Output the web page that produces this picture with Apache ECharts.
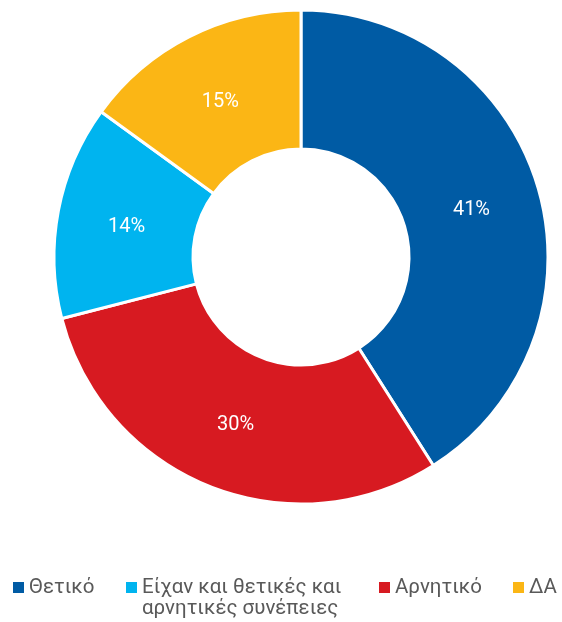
<!DOCTYPE html>
<html><head><meta charset="utf-8">
<script src="https://cdn.jsdelivr.net/npm/echarts@6/dist/echarts.min.js"></script>
<style>html,body{margin:0;padding:0;background:#fff}#c{width:562px;height:622px}</style>
</head><body><div id="c"></div>
<script>
const categories = ['Θετικό', 'Αρνητικό', 'Είχαν και θετικές και\nαρνητικές συνέπειες', 'ΔΑ'];
const values = [41, 30, 14, 15];
const colors = ['#005BA4', '#D71A21', '#00B4EF', '#FBB615'];
const legendOrder = ['Θετικό', 'Είχαν και θετικές και\nαρνητικές συνέπειες', 'Αρνητικό', 'ΔΑ'];
const legendLeft = [13, 126, 379, 513];

const LH = 21;
const ICON_Y = 587.5;
const chart = echarts.init(document.getElementById('c'), null, {renderer: 'canvas'});
const legends = legendOrder.map((name, i) => {
  const multi = name.indexOf('\n') >= 0;
  return {
    data: [name],
    left: legendLeft[i],
    top: multi ? ICON_Y - LH * 1.5 : ICON_Y - LH / 2,
    orient: 'horizontal',
    icon: 'rect',
    itemWidth: 11,
    itemHeight: 11,
    itemGap: 0,
    padding: 0,
    selectedMode: false,
    itemStyle: {borderWidth: 0},
    textStyle: {fontFamily: 'Roboto', fontSize: 20.5, color: '#595959', lineHeight: LH},
    // leading blank line keeps the first text line level with the icon
    formatter: n => (multi ? '\n' : '') + n
  };
});

const pieData = categories.map((c, i) => ({name: c, value: values[i]}));
const common = {
  type: 'pie',
  center: [301, 257],
  startAngle: 90,
  clockwise: true,
  labelLine: {show: false},
  emphasis: {disabled: true},
  data: pieData
};

chart.setOption({
  animation: false,
  color: colors,
  legend: legends,
  series: [
    Object.assign({}, common, {
      radius: [108, 247],
      itemStyle: {borderColor: '#fff', borderWidth: 3},
      label: {show: false}
    }),
    // label-only ring: places the percentages slightly nearer the centre
    Object.assign({}, common, {
      radius: [102, 247],
      silent: true,
      itemStyle: {color: 'rgba(0,0,0,0)', borderWidth: 0},
      label: {
        position: 'inside',
        formatter: p => p.value + '%',
        color: '#fff',
        fontFamily: 'Roboto',
        fontSize: 20,
        offset: [0, 3]
      }
    })
  ]
});
</script></body></html>
